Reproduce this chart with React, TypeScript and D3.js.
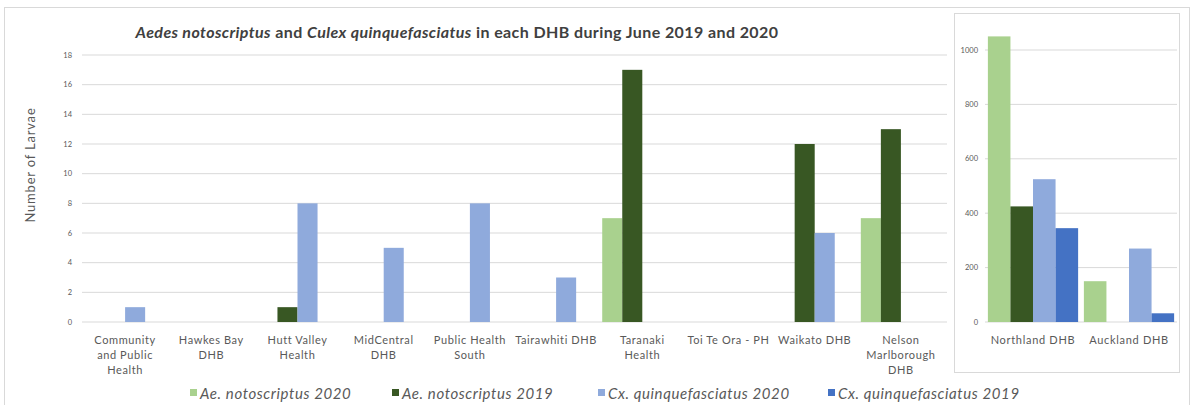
import * as d3 from 'd3';

const SERIES = [
  'Ae. notoscriptus 2020',
  'Ae. notoscriptus 2019',
  'Cx. quinquefasciatus 2020',
  'Cx. quinquefasciatus 2019',
];
const COLORS = ['#a9d18e', '#385723', '#8faadc', '#4472c4'];

// main chart (DHBs with small counts)
const mainCategories = [
  'Community\nand Public\nHealth',
  'Hawkes Bay\nDHB',
  'Hutt Valley\nHealth',
  'MidCentral\nDHB',
  'Public Health\nSouth',
  'Tairawhiti DHB',
  'Taranaki\nHealth',
  'Toi Te Ora - PH',
  'Waikato DHB',
  'Nelson\nMarlborough\nDHB',
];
const aeNoto2020 = [0, 0, 0, 0, 0, 0, 7, 0, 0, 7];
const aeNoto2019 = [0, 0, 1, 0, 0, 0, 17, 0, 12, 13];
const cxQuin2020 = [1, 0, 8, 5, 8, 3, 0, 0, 6, 0];
const cxQuin2019 = [0, 0, 0, 0, 0, 0, 0, 0, 0, 0];
const mainTicks = [0, 2, 4, 6, 8, 10, 12, 14, 16, 18];

// inset chart (Northland / Auckland)
const insetCategories = ['Northland DHB', 'Auckland DHB'];
const insetAe2020 = [1050, 150];
const insetAe2019 = [425, 0];
const insetCx2020 = [525, 270];
const insetCx2019 = [345, 32];
const insetTicks = [0, 200, 400, 600, 800, 1000];

const FONT = 'Lato, "Open Sans", sans-serif';
const GRID = '#d9d9d9';
const TEXT = '#595959';

function BarGroups({
  categories,
  values,
  x,
  y,
  groupFrac,
}: {
  categories: string[];
  values: number[][];
  x: d3.ScaleBand<string>;
  y: d3.ScaleLinear<number, number>;
  groupFrac: number;
}) {
  const bw = x.bandwidth();
  const inner = d3
    .scaleBand<number>()
    .domain(SERIES.map((_, i) => i))
    .range([(bw * (1 - groupFrac)) / 2, bw - (bw * (1 - groupFrac)) / 2]);
  return (
    <g>
      {categories.map((c, ci) =>
        values.map((vals, si) =>
          vals[ci] > 0 ? (
            <rect
              key={`${ci}-${si}`}
              x={(x(c) ?? 0) + (inner(si) ?? 0)}
              y={y(vals[ci])}
              width={inner.bandwidth()}
              height={y(0) - y(vals[ci])}
              fill={COLORS[si]}
            />
          ) : null
        )
      )}
    </g>
  );
}

export default function App() {
  const width = 1191;
  const height = 405;

  // main chart scales
  const xMain = d3.scaleBand<string>().domain(mainCategories).range([82, 944]);
  const yMain = d3.scaleLinear().domain([0, 18]).range([322, 55]);

  // inset chart scales
  const xInset = d3.scaleBand<string>().domain(insetCategories).range([985, 1177]);
  const yInset = d3.scaleLinear().domain([0, 1000]).range([322, 50]);

  const legendX = [190, 392, 598, 828];

  return (
    <svg
      width={width}
      height={height}
      style={{ position: 'absolute', left: 0, top: 0, fontFamily: FONT, background: '#fff' }}
    >
      <rect x={4.5} y={7.5} width={1185} height={420} fill="#fff" stroke={GRID} />

      {/* title */}
      <text
        x={457}
        y={38}
        textAnchor="middle"
        fontSize={16}
        fontWeight={700}
        letterSpacing={0.4}
        fill="#404040"
      >
        <tspan fontStyle="italic">Aedes notoscriptus</tspan>
        <tspan> and </tspan>
        <tspan fontStyle="italic">Culex quinquefasciatus</tspan>
        <tspan> in each DHB during June 2019 and 2020</tspan>
      </text>

      {/* main gridlines + ticks */}
      {mainTicks.map((t) => (
        <g key={t}>
          <line x1={82} x2={947} y1={yMain(t)} y2={yMain(t)} stroke={GRID} strokeWidth={1} />
          <text x={72} y={yMain(t) + 2.5} textAnchor="end" fontSize={7.5} fill={TEXT}>
            {t}
          </text>
        </g>
      ))}

      <text
        transform={`translate(35,${165}) rotate(-90)`}
        textAnchor="middle"
        fontSize={13}
        letterSpacing={0.8}
        fill={TEXT}
      >
        Number of Larvae
      </text>

      <BarGroups
        categories={mainCategories}
        values={[aeNoto2020, aeNoto2019, cxQuin2020, cxQuin2019]}
        x={xMain}
        y={yMain}
        groupFrac={0.93}
      />

      {mainCategories.map((c) => {
        const cx = (xMain(c) ?? 0) + xMain.bandwidth() / 2;
        return (
          <text
            key={c}
            x={cx}
            y={344}
            textAnchor="middle"
            fontSize={11}
            letterSpacing={0.6}
            fill={TEXT}
          >
            {c.split('\n').map((line, i) => (
              <tspan key={i} x={cx} dy={i === 0 ? 0 : 15}>
                {line}
              </tspan>
            ))}
          </text>
        );
      })}

      {/* legend */}
      {SERIES.map((s, i) => (
        <g key={s}>
          <rect x={legendX[i]} y={389} width={7} height={7} fill={COLORS[i]} />
          <text
            x={legendX[i] + 10}
            y={398.5}
            fontSize={15}
            fontStyle="italic"
            letterSpacing={0.6}
            fill={TEXT}
          >
            {s}
          </text>
        </g>
      ))}

      {/* inset chart */}
      <rect x={954.5} y={13.5} width={225} height={359} fill="#fff" stroke={GRID} />
      {insetTicks.map((t) => (
        <g key={t}>
          <line x1={985} x2={1177} y1={yInset(t)} y2={yInset(t)} stroke={GRID} strokeWidth={1} />
          <text x={978} y={yInset(t) + 2.5} textAnchor="end" fontSize={7.5} fill={TEXT}>
            {t}
          </text>
        </g>
      ))}
      <BarGroups
        categories={insetCategories}
        values={[insetAe2020, insetAe2019, insetCx2020, insetCx2019]}
        x={xInset}
        y={yInset}
        groupFrac={0.94}
      />
      {insetCategories.map((c) => (
        <text
          key={c}
          x={(xInset(c) ?? 0) + xInset.bandwidth() / 2}
          y={344}
          textAnchor="middle"
          fontSize={11}
          letterSpacing={0.7}
          fill={TEXT}
        >
          {c}
        </text>
      ))}
    </svg>
  );
}
